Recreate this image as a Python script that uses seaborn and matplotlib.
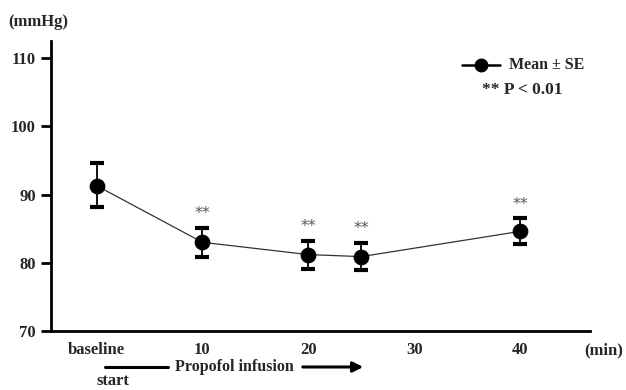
import matplotlib
matplotlib.use("Agg")
import matplotlib.pyplot as plt
import seaborn as sns
import pandas as pd
import numpy as np

# data
times = [0, 10, 20, 25, 40]
means = [91.3, 83.0, 81.2, 80.9, 84.6]
se_upper = [94.6, 85.1, 83.2, 82.9, 86.5]
se_lower = [88.2, 80.8, 79.1, 79.0, 82.7]
significant = [False, True, True, True, True]
tick_pos = [0, 10, 20, 30, 40]
tick_labels = ["baseline", "10", "20", "30", "40"]
y_ticks = [70, 80, 90, 100, 110]

sns.set_theme(style="white")
plt.rcParams['font.family'] = ['Liberation Serif', 'DejaVu Serif']

W, H = 626, 390
fig = plt.figure(figsize=(W / 100, H / 100), dpi=100)
ax = fig.add_axes([51 / W, 1 - 331 / H, (590 - 51) / W, (331 - 41) / H])

df = pd.DataFrame({"time": times, "mean": means})
sns.lineplot(data=df, x="time", y="mean", ax=ax, color="#333333", linewidth=0.9)
m = np.array(means)
yerr = np.array([m - np.array(se_lower), np.array(se_upper) - m])
ax.errorbar(times, means, yerr=yerr, fmt="none", ecolor="black", elinewidth=1.3,
            capsize=5.2, capthick=3, zorder=3)
sns.scatterplot(data=df, x="time", y="mean", ax=ax, color="black", s=110,
                edgecolor="black", zorder=4, legend=False)

for t, up, sig in zip(times, se_upper, significant):
    if sig:
        ax.text(t, up + 1.0, "**", ha="center", va="bottom", fontsize=11.5,
                color="#555555", family=["DejaVu Sans"])

ax.set_xlim(-4.3, 46.6)
ax.set_ylim(70, 112.5)
ax.set_xticks(tick_pos)
ax.set_xticklabels(tick_labels)
ax.set_yticks(y_ticks)
ax.set_xlabel("")
ax.set_ylabel("")
for lab in ax.get_xticklabels() + ax.get_yticklabels():
    lab.set_fontweight("bold")
    lab.set_fontsize(12)
ax.tick_params(axis="y", which="major", direction="out", length=7, width=2,
               color="black", left=True, pad=4)
ax.tick_params(axis="x", length=0, pad=8)
for s in ["top", "right"]:
    ax.spines[s].set_visible(False)
for s in ["left", "bottom"]:
    ax.spines[s].set_color("black")
    ax.spines[s].set_linewidth(2)

def fx(px):
    return px / W

def fy(py):
    return 1 - py / H

fig.text(fx(8), fy(22), "(mmHg)", fontsize=12, fontweight="bold", va="center", ha="left")
fig.text(fx(584), fy(350), "(min)", fontsize=12, fontweight="bold", va="center", ha="left")
fig.text(fx(113), fy(381), "start", fontsize=12, fontweight="bold", va="center", ha="center")
fig.text(fx(234), fy(367), "Propofol infusion", fontsize=11.5, fontweight="bold",
         va="center", ha="center")
fig.add_artist(plt.Line2D([fx(105), fx(168)], [fy(367), fy(367)], color="black", lw=2.2))
fig.add_artist(matplotlib.patches.FancyArrowPatch((fx(300), fy(367)), (fx(366), fy(367)),
               transform=fig.transFigure, arrowstyle="-|>,head_length=4,head_width=2",
               color="black", lw=2.2, mutation_scale=1.5))

# legend
fig.add_artist(plt.Line2D([fx(462), fx(500)], [fy(65), fy(65)], color="black", lw=1.8))
fig.add_artist(plt.Line2D([fx(481)], [fy(65)], marker="o", markersize=9, color="black"))
fig.text(fx(509), fy(65), "Mean ± SE", fontsize=11.5, fontweight="bold", va="center", ha="left")
fig.text(fx(482), fy(90), "** P < 0.01", fontsize=12.5, fontweight="bold", va="center", ha="left")

fig.savefig("out.png", dpi=100)
